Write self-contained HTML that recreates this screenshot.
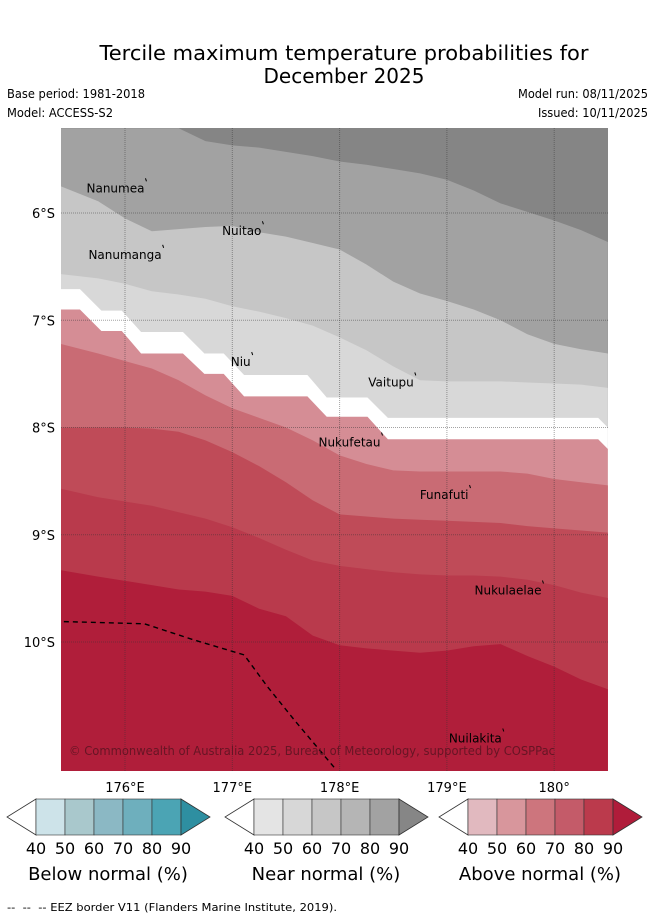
<!DOCTYPE html>
<html><head><meta charset="utf-8">
<style>
html,body{margin:0;padding:0;background:#fff;}
svg{display:block;font-family:"DejaVu Sans","Liberation Sans",sans-serif;}
</style></head>
<body>
<svg id="c" width="655" height="919" viewBox="0 0 655 919" xmlns="http://www.w3.org/2000/svg">
<text x="344" y="60" font-size="20" text-anchor="middle" textLength="489" lengthAdjust="spacingAndGlyphs">Tercile maximum temperature probabilities for</text>
<text x="344" y="83" font-size="20" text-anchor="middle">December 2025</text>
<text x="7" y="98" font-size="12" textLength="138" lengthAdjust="spacingAndGlyphs">Base period: 1981-2018</text>
<text x="7" y="117" font-size="12" textLength="106" lengthAdjust="spacingAndGlyphs">Model: ACCESS-S2</text>
<text x="648" y="98" font-size="12" text-anchor="end" textLength="130" lengthAdjust="spacingAndGlyphs">Model run: 08/11/2025</text>
<text x="648" y="117" font-size="12" text-anchor="end" textLength="110" lengthAdjust="spacingAndGlyphs">Issued: 10/11/2025</text>
<defs><clipPath id="mapclip"><rect x="61" y="128" width="547" height="643"/></clipPath></defs>
<g id="map" clip-path="url(#mapclip)"></g>
<g id="axes"></g>
<g id="bars"></g>
<text x="7" y="911" font-size="11" textLength="330" lengthAdjust="spacingAndGlyphs">-- &#160;-- &#160;-- EEZ border V11 (Flanders Marine Institute, 2019).</text>
</svg>
<script>
const lons = [175.4,175.75,176,176.25,176.5,176.75,177,177.25,177.5,177.75,178,178.25,178.5,178.75,179,179.25,179.5,179.75,180,180.25,180.5];
const near90 = [5.21,5.21,5.21,5.21,5.21,5.33,5.37,5.39,5.43,5.47,5.52,5.55,5.59,5.63,5.69,5.79,5.91,5.99,6.07,6.16,6.27];
const near80 = [5.75,5.89,6.05,6.17,6.15,6.13,6.12,6.18,6.22,6.28,6.34,6.48,6.64,6.75,6.82,6.90,7.00,7.13,7.22,7.27,7.31];
const near60 = [6.57,6.61,6.66,6.73,6.76,6.80,6.87,6.92,6.98,7.05,7.16,7.28,7.43,7.56,7.57,7.57,7.57,7.58,7.59,7.60,7.63];
const stepLons = [175.4,175.58,175.78,175.97,176.15,176.54,176.74,176.92,177.11,177.70,177.88,178.26,178.45,180.41,180.5];
const nearEdgeLats = [6.71,6.71,6.91,6.91,7.11,7.11,7.31,7.31,7.51,7.51,7.72,7.72,7.91,7.91,8.00];
const aboveEdgeLats = [6.90,6.90,7.10,7.10,7.31,7.31,7.50,7.50,7.71,7.71,7.90,7.90,8.11,8.11,8.20];
const above60 = [7.22,7.31,7.38,7.45,7.56,7.70,7.82,7.91,8.00,8.12,8.26,8.34,8.40,8.41,8.41,8.41,8.41,8.43,8.48,8.51,8.54];
const above70 = [8.00,8.00,8.00,8.01,8.04,8.12,8.23,8.36,8.51,8.68,8.81,8.83,8.85,8.86,8.87,8.88,8.89,8.92,8.94,8.96,8.98];
const above80 = [8.57,8.65,8.69,8.73,8.79,8.85,8.93,9.03,9.14,9.24,9.29,9.32,9.35,9.37,9.38,9.38,9.39,9.42,9.47,9.54,9.59];
const above90 = [9.33,9.39,9.43,9.47,9.51,9.53,9.57,9.69,9.76,9.94,10.03,10.06,10.08,10.10,10.08,10.04,10.02,10.13,10.23,10.35,10.44];
const eezLons = [175.43,176.18,176.64,177.11,177.33,177.58,177.95];
const eezLats = [9.81,9.83,9.98,10.12,10.42,10.73,11.17];
const lonTicks = [176,177,178,179,180];
const lonTickLabels = ["176°E","177°E","178°E","179°E","180°"];
const latTicks = [6,7,8,9,10];
const latTickLabels = ["6°S","7°S","8°S","9°S","10°S"];
const islandNames = ["Nanumea","Nuitao","Nanumanga","Niu","Vaitupu","Nukufetau","Funafuti","Nukulaelae","Nuilakita"];
const islandLons = [176.20,177.29,176.36,177.19,178.71,178.40,179.22,179.90,179.53];
const islandLats = [5.77,6.17,6.39,7.39,7.58,8.14,8.63,9.52,10.90];
const cbTicks = ["40","50","60","70","80","90"];
const cbTitles = ["Below normal (%)","Near normal (%)","Above normal (%)"];
const cbColors = [
 ["#cde3e9","#a9c8cc","#8bb8c4","#6eafbd","#4ba4b4","#2e8fa1"],
 ["#e4e4e4","#d7d7d7","#c6c6c6","#b5b5b5","#a2a2a2","#868686"],
 ["#e1b9bf","#d8969c","#cd757d","#c45b69","#bb3a4c","#b01c3a"]];

const NS="http://www.w3.org/2000/svg";
const X = lon => 125 + (lon-176)*107.3;
const Y = lat => 213 + (lat-6)*107.25;
const map=document.getElementById('map'), axes=document.getElementById('axes'), bars=document.getElementById('bars');
function mk(tag, attrs, parent){const e=document.createElementNS(NS,tag);for(const k in attrs)e.setAttribute(k,attrs[k]);parent.appendChild(e);return e;}
function band(ls, lats, fill, name){
  let d='M'+X(ls[0])+','+Y(lats[0]);
  for(let i=1;i<ls.length;i++) d+=' L'+X(ls[i])+','+Y(lats[i]);
  d+=' L'+X(ls[ls.length-1])+',800 L'+X(ls[0])+',800 Z';
  const p=mk('path',{d:d,fill:fill},map);
  
  
}
const bg=mk('rect',{x:61,y:128,width:547,height:643,fill:'#858585'},map);


band(lons,near90,'#a2a2a2','near-normal-80-band');
band(lons,near80,'#c6c6c6','near-normal-60-band');
band(lons,near60,'#d8d8d8','near-normal-50-band');
band(stepLons,nearEdgeLats,'#ffffff','no-dominant-band');
band(stepLons,aboveEdgeLats,'#d58d95','above-normal-50-band');
band(lons,above60,'#c96b74','above-normal-60-band');
band(lons,above70,'#bf4b58','above-normal-70-band');
band(lons,above80,'#b93a4c','above-normal-80-band');
band(lons,above90,'#b01e3a','above-normal-90-band');
lonTicks.forEach((t,i)=>{
  const l=mk('line',{x1:X(t),x2:X(t),y1:128,y2:771,stroke:'#333','stroke-opacity':0.45,'stroke-width':1,'stroke-dasharray':'1,1'},map);
  
  
  const tx=mk('text',{x:X(t),y:792,'font-size':13,'text-anchor':'middle'},axes);
  tx.textContent=lonTickLabels[i];
  
  
});
latTicks.forEach((t,i)=>{
  const l=mk('line',{x1:61,x2:608,y1:Y(t),y2:Y(t),stroke:'#333','stroke-opacity':0.45,'stroke-width':1,'stroke-dasharray':'1,1'},map);
  
  
  const tx=mk('text',{x:55,y:Y(t)+5,'font-size':13,'text-anchor':'end'},axes);
  tx.textContent=latTickLabels[i];
  
  
});
let ed='M'+X(eezLons[0])+','+Y(eezLats[0]);
for(let i=1;i<eezLons.length;i++) ed+=' L'+X(eezLons[i])+','+Y(eezLats[i]);
const ez=mk('path',{d:ed,fill:'none',stroke:'#000','stroke-width':1.4,'stroke-dasharray':'5,4'},map);


islandNames.forEach((n,i)=>{
  const x=X(islandLons[i]), y=Y(islandLats[i]);
  const m=mk('line',{x1:x-1,y1:y-10,x2:x,y2:y-7,stroke:'#000','stroke-width':1},map);
  
  
  const tx=mk('text',{x:x-2,y:y+4,'font-size':12,'text-anchor':'end'},map);
  tx.textContent=n;
  
  
});
const cp=mk('text',{x:69,y:755,'font-size':12,fill:'#5e1422','fill-opacity':0.9,textLength:486,lengthAdjust:'spacingAndGlyphs'},map);
cp.textContent='© Commonwealth of Australia 2025, Bureau of Meteorology, supported by COSPPac';


const cbX=[7,225,439];
cbX.forEach((x0,b)=>{
  const g=mk('g',{},bars);
  
  
  const y0=799,h=36,seg=29;
  mk('path',{d:`M${x0+29},${y0} L${x0},${y0+h/2} L${x0+29},${y0+h} Z`,fill:'#fff',stroke:'#333','stroke-width':0.8},g);
  for(let k=0;k<5;k++) mk('rect',{x:x0+29+k*seg,y:y0,width:seg,height:h,fill:cbColors[b][k],stroke:'#333','stroke-width':0.6},g);
  const xr=x0+29+5*seg;
  mk('path',{d:`M${xr},${y0} L${xr+29},${y0+h/2} L${xr},${y0+h} Z`,fill:cbColors[b][5],stroke:'#333','stroke-width':0.8},g);
  cbTicks.forEach((t,k)=>{
    const tx=mk('text',{x:x0+29+k*seg,y:854,'font-size':16,'text-anchor':'middle'},g);
    tx.textContent=t;
    
    
  });
  const tt=mk('text',{x:x0+101,y:880,'font-size':18,'text-anchor':'middle'},g);
  tt.textContent=cbTitles[b];
  
  
});
</script>
</body></html>
